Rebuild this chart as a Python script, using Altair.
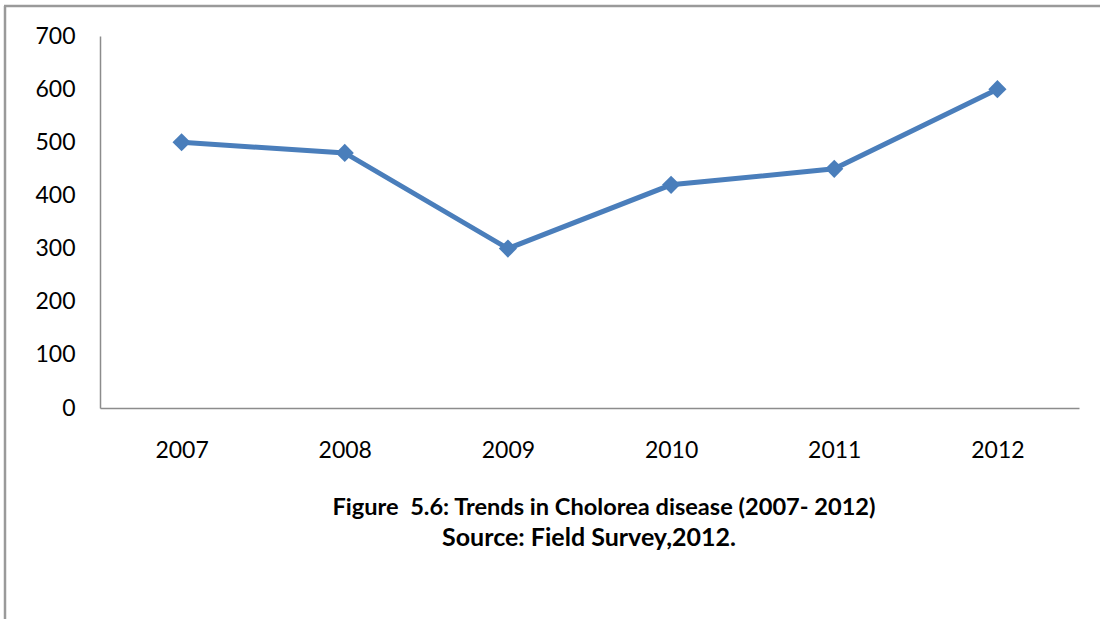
import altair as alt
import pandas as pd

years = ["2007", "2008", "2009", "2010", "2011", "2012"]
cases = [500, 480, 300, 420, 450, 600]
title_lines = ["Figure\u00a0 5.6: Trends in Cholorea disease (2007- 2012)", "Source: Field Survey,2012."]
y_ticks = [0, 100, 200, 300, 400, 500, 600, 700]

df = pd.DataFrame({"year": years, "cases": cases})

FONT = "Lato"
COLOR = "#4a7ebb"
W, H = 979, 372

base = alt.Chart(df)

x_enc = alt.X("year:N", sort=years, title=None,
              scale=alt.Scale(type="point", padding=0.5),
              axis=alt.Axis(labelAngle=0, tickSize=0, labelPadding=31, domainColor="#8c8c8c",
                            domainWidth=1.5, labelFontSize=23, labelFont=FONT, labelColor="#000"))
y_enc = alt.Y("cases:Q", title=None,
              scale=alt.Scale(domain=[0, 700], nice=False),
              axis=alt.Axis(values=y_ticks, grid=False, tickSize=0, labelPadding=25, domainColor="#8c8c8c",
                            domainWidth=1.5, labelFontSize=23, labelFont=FONT, labelColor="#000"))

line = base.mark_line(color=COLOR, strokeWidth=5).encode(x=x_enc, y=y_enc)
pts = base.mark_point(shape="diamond", filled=True, size=330, color=COLOR, opacity=1).encode(x=x_enc, y=y_enc)

one = alt.Data(values=[{}])
t1 = alt.Chart(one).mark_text(text=title_lines[0], font=FONT, fontSize=23.6, fontWeight="bold",
                              color="#000", align="center", baseline="alphabetic").encode(
    x=alt.value(504), y=alt.value(479))
t2 = alt.Chart(one).mark_text(text=title_lines[1], font=FONT, fontSize=25, fontWeight="bold",
                              color="#000", align="center", baseline="alphabetic").encode(
    x=alt.value(489), y=alt.value(510))

frame_left = alt.Chart(one).mark_rule(color="#9a9a9a", strokeWidth=2.5).encode(
    x=alt.value(-95), y=alt.value(-30), y2=alt.value(600))
frame_top = alt.Chart(one).mark_rule(color="#9a9a9a", strokeWidth=2.5).encode(
    x=alt.value(-96), x2=alt.value(1010), y=alt.value(-30))

chart = alt.layer(frame_left, frame_top, line, pts, t1, t2).properties(
    width=W, height=H,
    background="white",
    autosize=alt.AutoSizeParams(type="none"),
    padding={"left": 100, "top": 36, "right": 21, "bottom": 211},
).configure_view(strokeWidth=0, stroke=None)

chart.save("out.html", embed_options={"renderer": "svg", "actions": False})
